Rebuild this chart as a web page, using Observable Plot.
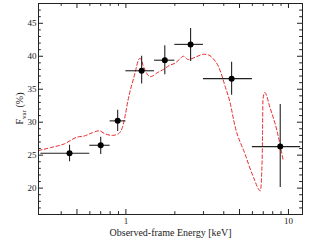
<!DOCTYPE html>
<html><head><meta charset="utf-8">
<script src="https://cdn.jsdelivr.net/npm/d3@7"></script>
<script src="https://cdn.jsdelivr.net/npm/@observablehq/plot@0.6"></script>
<style>body{margin:0;background:#fff}#chart svg{display:block}</style>
</head><body><div id="chart"></div>
<script>
// Observed data (bins in keV, fractional variability in %)
const energy   = [0.45, 0.70, 0.89, 1.25, 1.735, 2.5, 4.47, 8.9];
const eLow     = [0.3, 0.6, 0.8, 1.0, 1.5, 2.0, 3.0, 6.0];
const eHigh    = [0.6, 0.8, 1.0, 1.5, 2.0, 3.0, 6.0, 11.9];
const fvar     = [25.3, 26.5, 30.2, 37.8, 39.4, 41.8, 36.6, 26.3];
const fvarLow  = [24.0, 25.1, 28.6, 35.8, 37.2, 39.2, 34.1, 20.1];
const fvarHigh = [26.5, 27.7, 31.8, 40.0, 41.6, 44.2, 39.1, 32.7];

// Model curve (red dashed)
const modelE = [0.29, 0.345, 0.417, 0.503, 0.553, 0.622, 0.683, 0.75, 0.826, 0.893, 0.951, 0.99, 1.028, 1.12, 1.22, 1.29, 1.35, 1.42, 1.56, 1.70, 1.85, 2.02, 2.15, 2.26, 2.42, 2.7, 3.0, 3.22, 3.45, 3.7, 3.9, 4.07, 4.35, 4.7, 5.4, 6.1, 6.72, 6.9, 6.97, 7.15, 7.7, 8.5, 9.3];
const modelF = [25.7, 26.15, 26.7, 27.75, 27.9, 28.4, 28.7, 28.2, 28.0, 28.2, 29.2, 31.0, 33.2, 36.8, 39.7, 38.3, 37.3, 36.9, 37.5, 38.0, 38.6, 39.0, 39.6, 40.0, 39.5, 39.9, 40.3, 40.2, 39.6, 38.5, 37.0, 35.5, 33.2, 29.3, 25.2, 21.6, 19.6, 25.0, 33.5, 34.5, 32.2, 28.7, 24.1];

// Axis ticks
const xMajor = [0.5, 1, 5, 10];
const xMinor = [0.4, 0.6, 0.7, 0.8, 0.9, 2, 3, 4, 6, 7, 8, 9];
const yMajor = [20, 25, 30, 35, 40, 45];
const yMinor = [17, 18, 19, 21, 22, 23, 24, 26, 27, 28, 29, 31, 32, 33, 34, 36, 37, 38, 39, 41, 42, 43, 44, 46, 47];

const xLabel = "Observed-frame Energy [keV]";
const yLabelMain = "F", yLabelSub = "var", yLabelUnit = " (%)";

const W = 326, H = 252, mL = 38, mR = 24, mT = 3, mB = 38;
const fw = W - mL - mR, fh = H - mT - mB;
const majLen = 5, minLen = 2.8;
const ink = "#222";
const font = "'Liberation Serif','Times New Roman',serif";

const pts = energy.map((e, i) => ({e, lo: eLow[i], hi: eHigh[i], f: fvar[i], fl: fvarLow[i], fh: fvarHigh[i]}));
const model = modelE.map((e, i) => ({e, f: modelF[i]}));

const chart = Plot.plot({
  width: W, height: H,
  marginLeft: mL, marginRight: mR, marginTop: mT, marginBottom: mB,
  style: {fontFamily: font, color: ink, background: "#fff"},
  x: {type: "log", domain: [0.29, 12.2]},
  y: {domain: [16, 48]},
  marks: [
    // inward ticks, bottom and top
    Plot.tickX(xMajor, {x: d => d, insetTop: fh - majLen, stroke: ink}),
    Plot.tickX(xMinor, {x: d => d, insetTop: fh - minLen, stroke: ink}),
    Plot.tickX(xMajor, {x: d => d, insetBottom: fh - majLen, stroke: ink}),
    Plot.tickX(xMinor, {x: d => d, insetBottom: fh - minLen, stroke: ink}),
    // inward ticks, left and right
    Plot.tickY(yMajor, {y: d => d, insetRight: fw - majLen, stroke: ink}),
    Plot.tickY(yMinor, {y: d => d, insetRight: fw - minLen, stroke: ink}),
    Plot.tickY(yMajor, {y: d => d, insetLeft: fw - majLen, stroke: ink}),
    Plot.tickY(yMinor, {y: d => d, insetLeft: fw - minLen, stroke: ink}),
    Plot.axisX(xMajor, {tickSize: 0, tickPadding: 3, fontSize: 9, tickFormat: d => String(d), label: null, fill: ink}),
    Plot.axisY(yMajor, {tickSize: 0, tickPadding: 2, fontSize: 9, label: null, fill: ink}),
    Plot.text([xLabel], {frameAnchor: "bottom", dy: 21, text: d => d, fontSize: 10, fill: ink}),
    // model
    Plot.line(model, {x: "e", y: "f", stroke: "#e8262b", strokeWidth: 1, strokeDasharray: "3.5,2.5", curve: "monotone-x"}),
    // error bars
    Plot.ruleY(pts, {y: "f", x1: "lo", x2: "hi", stroke: ink, strokeWidth: 1.1}),
    Plot.ruleX(pts, {x: "e", y1: "fl", y2: "fh", stroke: ink, strokeWidth: 1.1}),
    Plot.dot(pts, {x: "e", y: "f", r: 3, fill: "#000", stroke: "none"}),
    Plot.frame({stroke: ink, strokeWidth: 1})
  ]
});

// y-axis label with subscript
const svg = d3.select(chart);
const yl = svg.append("text")
  .attr("transform", `translate(23,${mT + fh / 2})rotate(-90)`)
  .attr("text-anchor", "middle")
  .attr("font-family", font)
  .attr("font-size", 10)
  .attr("fill", ink);
yl.append("tspan").text(yLabelMain);
yl.append("tspan").attr("font-size", 7).attr("dy", 2.5).text(yLabelSub);
yl.append("tspan").attr("dy", -2.5).text(yLabelUnit);

document.getElementById("chart").appendChild(chart);
</script>
</body></html>
